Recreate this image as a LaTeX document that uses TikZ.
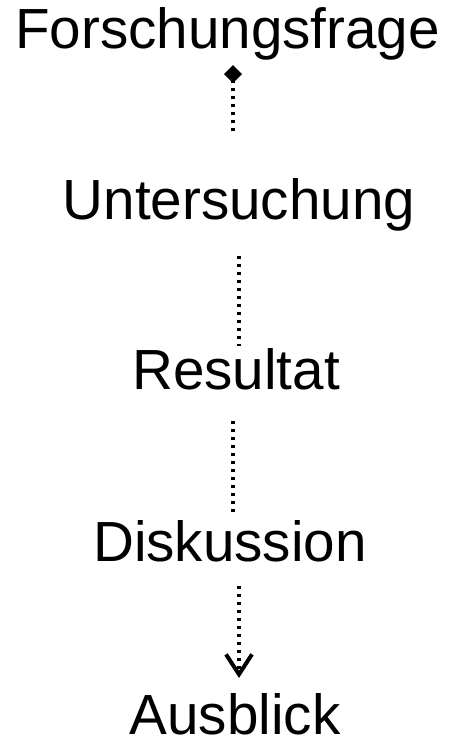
\documentclass[tikz,border=0pt]{standalone}
\usepackage{fontspec}
\setmainfont{Liberation Sans}
\usetikzlibrary{arrows.meta}
\begin{document}
\begin{tikzpicture}[x=1pt,y=-1pt,
  lbl/.style={anchor=base,inner sep=0pt,font=\fontsize{56.6}{60}\selectfont},
  conn/.style={line width=3.4pt,dash pattern=on 3.4pt off 4.6pt}]
\useasboundingbox (0,0) rectangle (460,745);
\node[lbl] (f) at (227.5,48) {Forschungsfrage};
\node[lbl] (u) at (239,219) {Untersuchung};
\node[lbl] (r) at (236,389) {Resultat};
\node[lbl] (d) at (230,561) {Diskussion};
\node[lbl] (a) at (235,734) {Ausblick};
\coordinate (c1s) at (233,65);
\coordinate (c1e) at (233,134);
\coordinate (c2s) at (239,256);
\coordinate (c2e) at (239,346);
\coordinate (c3s) at (233,421);
\coordinate (c3e) at (233,513);
\coordinate (c4s) at (239,586);
\coordinate (c4e) at (239,678);
\draw[conn,{Diamond[length=18pt,width=18pt,line width=0pt]}-] (c1s) -- (c1e);
\draw[conn] (c2s) -- (c2e);
\draw[conn] (c3s) -- (c3e);
\draw[conn,-{Straight Barb[length=20pt,width=26pt,line width=4pt]}] (c4s) -- (c4e);
\end{tikzpicture}
\end{document}
